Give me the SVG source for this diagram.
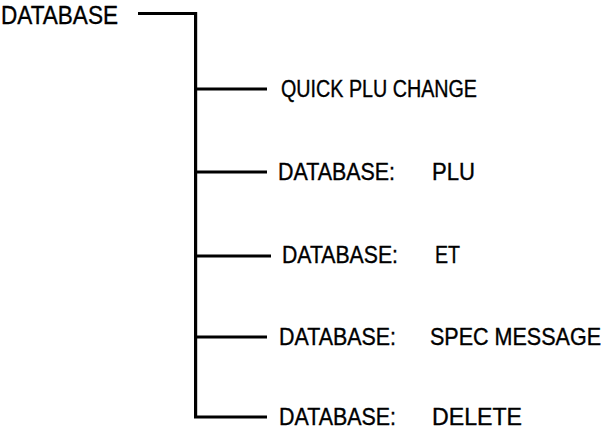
<svg xmlns="http://www.w3.org/2000/svg" width="608" height="434" viewBox="0 0 608 434">
<style>
.t{font-family:"Liberation Sans",Arial,sans-serif;fill:#000;stroke:#000;stroke-width:0.35}
.top{font-size:25px}
.sub{font-size:23px}
.ln{fill:none;stroke:#000;stroke-width:3.2;stroke-linejoin:miter;stroke-linecap:butt}
</style>
<rect width="608" height="434" fill="#fff"/>
<g id="connectors">
<path class="ln" d="M138 13.5 H195.6 V417 H267"/>
<path class="ln" d="M195.6 89 H267"/>
<path class="ln" d="M195.6 172 H267"/>
<path class="ln" d="M195.6 256 H271"/>
<path class="ln" d="M195.6 337 H267"/>
</g>
<g id="root">
<text class="t top" x="1" y="24" textLength="117" lengthAdjust="spacingAndGlyphs">DATABASE</text>
</g>
<g id="quick-plu-change">
<text class="t sub" x="281" y="97" textLength="196" lengthAdjust="spacingAndGlyphs">QUICK PLU CHANGE</text>
</g>
<g id="database-plu">
<text class="t sub" x="278" y="180" textLength="117" lengthAdjust="spacingAndGlyphs">DATABASE:</text>
<text class="t sub" x="432" y="180" textLength="43" lengthAdjust="spacingAndGlyphs">PLU</text>
</g>
<g id="database-et">
<text class="t sub" x="282" y="263" textLength="116" lengthAdjust="spacingAndGlyphs">DATABASE:</text>
<text class="t sub" x="435" y="263" textLength="25" lengthAdjust="spacingAndGlyphs">ET</text>
</g>
<g id="database-spec-message">
<text class="t sub" x="279" y="345" textLength="117" lengthAdjust="spacingAndGlyphs">DATABASE:</text>
<text class="t" style="font-size:21.4px" transform="translate(430 345) scale(1 1.075)" x="0" y="0" textLength="171" lengthAdjust="spacingAndGlyphs">SPEC MESSAGE</text>
</g>
<g id="database-delete">
<text class="t sub" x="279" y="425" textLength="117" lengthAdjust="spacingAndGlyphs">DATABASE:</text>
<text class="t sub" x="432" y="425" textLength="90" lengthAdjust="spacingAndGlyphs">DELETE</text>
</g>
</svg>
